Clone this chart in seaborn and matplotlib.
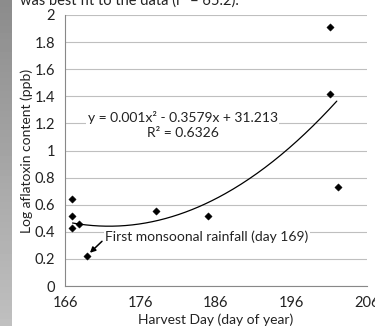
import numpy as np
import matplotlib
matplotlib.use("Agg")
import matplotlib.pyplot as plt
import seaborn as sns
import pandas as pd

harvest_day = [166.9, 166.9, 166.9, 167.8, 168.9, 178.0, 185.0, 201.1, 201.1, 202.2]
log_aflatoxin = [0.64, 0.52, 0.43, 0.46, 0.22, 0.55, 0.52, 1.91, 1.42, 0.73]
x_ticks = [166, 176, 186, 196, 206]
y_ticks = [0, 0.2, 0.4, 0.6, 0.8, 1, 1.2, 1.4, 1.6, 1.8, 2]
y_tick_labels = ["0", "0.2", "0.4", "0.6", "0.8", "1", "1.2", "1.4", "1.6", "1.8", "2"]
equation = "y = 0.001x\u00b2 - 0.3579x + 31.213"
r_squared = "R\u00b2 = 0.6326"
annotation = "First monsoonal rainfall (day 169)"
x_label = "Harvest Day (day of year)"
y_label = "Log aflatoxin content (ppb)"
top_text = "was best fit to the data (r\u00b2 = 65.2)."

sns.set_style("white")
plt.rcParams['font.family'] = ['Lato', 'DejaVu Sans']

df = pd.DataFrame({"day": harvest_day, "log": log_aflatoxin})

fig = plt.figure(figsize=(3.75, 3.26), dpi=100)
# left strip (photo edge)
strip = fig.add_axes([0, 0, 12/375, 1])
strip.imshow(np.linspace(0.55, 0.75, 50).reshape(-1, 1), cmap="gray", vmin=0, vmax=1, aspect="auto")
strip.axis("off")

ax = fig.add_axes([65/375, 40/326, 302/375, 271/326])
ax.set_facecolor("white")

# trendline
coef = np.polyfit(df["day"], df["log"], 2)
xs = np.linspace(167.0, 202.0, 200)
ax.plot(xs, np.polyval(coef, xs), color="black", lw=0.9, zorder=2)

sns.scatterplot(data=df, x="day", y="log", marker="D", s=14, color="black",
                edgecolor="black", linewidth=0.3, ax=ax, zorder=3)

ax.set_xlim(166, 206)
ax.set_ylim(0, 2)
ax.set_xticks(x_ticks)
ax.set_yticks(y_ticks)
ax.set_yticklabels(y_tick_labels)
ax.grid(axis="y", color="#bfbfbf", lw=0.8)
ax.set_axisbelow(True)
for s in ["top", "right"]:
    ax.spines[s].set_visible(False)
for s in ["left", "bottom"]:
    ax.spines[s].set_color("#888888")
    ax.spines[s].set_linewidth(0.8)
ax.tick_params(axis="both", direction="out", length=4, width=0.8, color="#888888",
               labelsize=10.5, labelcolor="#222222", pad=3)
ax.set_xlabel(x_label, fontsize=10, color="#222222", labelpad=3)
ax.set_ylabel(y_label, fontsize=10, color="#222222", labelpad=1)

ax.text(181.6, 1.19, equation + "\n" + r_squared, ha="center", va="center",
        fontsize=10, color="#222222", linespacing=1.25,
        bbox=dict(facecolor="white", edgecolor="none", pad=1), zorder=4)
ax.text(171.3, 0.36, annotation, fontsize=10, color="#222222", ha="left", va="center",
        bbox=dict(facecolor="white", edgecolor="none", pad=1), zorder=4)
ax.annotate("", xy=(169.3, 0.245), xytext=(170.9, 0.33),
            arrowprops=dict(arrowstyle="-|>", color="black", lw=1.1, mutation_scale=8,
                            shrinkA=0, shrinkB=0), zorder=4)

fig.text(20/375, 1.0, top_text, fontsize=10.5, color="#222222", ha="left", va="center")

fig.savefig("out.png", dpi=100)
